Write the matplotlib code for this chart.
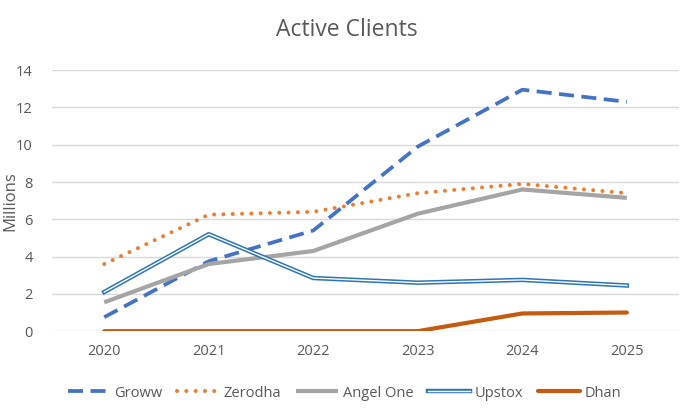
import matplotlib
matplotlib.use("Agg")
import matplotlib.pyplot as plt
import matplotlib.patheffects as pe

years = ["2020", "2021", "2022", "2023", "2024", "2025"]
groww = [0.75, 3.75, 5.4, 9.9, 12.95, 12.3]
zerodha = [3.6, 6.25, 6.4, 7.4, 7.9, 7.4]
angel_one = [1.55, 3.6, 4.3, 6.3, 7.6, 7.15]
upstox = [2.1, 5.2, 2.85, 2.6, 2.75, 2.45]
dhan = [0, 0, 0, 0, 0.95, 1.0]

plt.rcParams["font.family"] = ["Open Sans", "DejaVu Sans"]
txt = "#595959"

fig = plt.figure(figsize=(6.93, 4.15), dpi=100)
ax = fig.add_axes([0.075, 0.202, 0.905, 0.629])

x = list(range(len(years)))
ax.plot(x, groww, color="#4472C4", lw=2.7, linestyle=(0, (4, 2)), label="Groww")
ax.plot(x, zerodha, color="#ED7D31", lw=2.9, linestyle=(0, (0.01, 2.3)),
        dash_capstyle="round", label="Zerodha")
ax.plot(x, angel_one, color="#A5A5A5", lw=3.0, solid_capstyle="butt", label="Angel One")
ax.plot(x, upstox, color="white", lw=1.0, label="Upstox",
        path_effects=[pe.Stroke(linewidth=3.2, foreground="#2E75B6"), pe.Normal()])
# the zero part sits on the axis edge and gets half clipped, like the original
ax.plot(x, dhan, color="#C55A11", lw=3.0, solid_capstyle="round", label="Dhan")

ax.set_xlim(-0.5, len(years) - 0.5)
ax.set_ylim(0, 14)
ax.set_yticks(range(0, 15, 2))
ax.set_xticks(x)
ax.set_xticklabels(years)
ax.grid(axis="y", color="#D9D9D9", lw=1.0)
ax.set_axisbelow(True)
for s in ax.spines.values():
    s.set_visible(False)
ax.tick_params(length=0, labelsize=10.5, colors=txt, pad=9)
ax.tick_params(axis="y", pad=14)
ax.set_ylabel("Millions", fontsize=12, color=txt)
ax.yaxis.set_label_coords(-0.054, 0.5)

fig.text(0.5, 0.927, "Active Clients", ha="center", va="center", fontsize=16.5, color=txt)

fig.legend(loc="center", bbox_to_anchor=(0.497, 0.053), ncol=5, frameon=False,
           fontsize=10.5, labelcolor=txt, handlelength=2.9, handletextpad=0.3,
           columnspacing=1.0)

fig.savefig("out.png", dpi=100)
